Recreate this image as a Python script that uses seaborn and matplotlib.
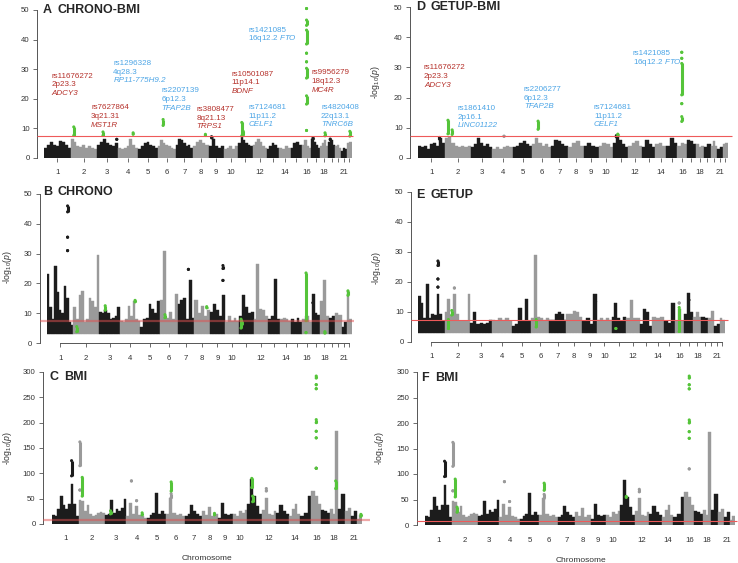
import numpy as np
import pandas as pd
import matplotlib.pyplot as plt
import seaborn as sns

# chromosomes (lengths in Mb) and the tick labels R kept
chrom_names = ['1', '2', '3', '4', '5', '6', '7', '8', '9', '10', '11',
               '12', '13', '14', '15', '16', '17', '18', '19', '20', '21', '22']
chrom_len = [249, 243, 198, 191, 181, 171, 159, 146, 141, 136, 135,
             134, 115, 107, 103, 90, 81, 78, 59, 63, 48, 51]
shown_ticks = ['1', '2', '3', '4', '5', '6', '7', '8', '9', '10', '12', '14', '16', '18', '21']
sig_line = 7.3

# skyline of -log10(p) per chromosome (read left to right)
sky_chrono_bmi = [
    [3.5, 4.5, 5.5, 4.5, 4, 5.8, 5.5, 4.5, 3.5], [6.5, 5.5, 4, 3.8, 4.5, 3.5, 4, 3.5, 3],
    [4.5, 5.5, 6.5, 5, 4.5, 4, 5], [3.5, 3, 3.5, 4, 6.5, 4.5, 3.5], [3, 4, 5, 5.5, 4.5, 4, 3.5],
    [4, 6, 5, 4.5, 4, 3.5, 3], [4.5, 6.5, 6, 5, 4, 4.5, 3.5], [4, 5.5, 6, 5, 4.5],
    [4, 6.5, 4, 3.5, 4], [3, 3.5, 4, 3, 4], [5, 7, 6, 5, 4.5, 4], [4.5, 5.5, 6.5, 5.5, 4, 3.5],
    [3, 4, 5, 4.5, 3.5], [3.5, 3, 4, 3.5], [3.5, 5, 5.5, 4.5], [4.5, 6, 4, 3.5],
    [6.5, 5.5, 4.5, 3.5], [4, 5, 6, 4], [5.5, 6, 4.5], [4, 4.5, 3.5], [2.5, 3.5, 3], [5, 5.5]]
sky_getup_bmi = [
    [4, 3.5, 4, 3, 4.5, 5, 4, 6.5, 5], [6.5, 7, 5, 4, 3.5, 4, 3.5, 4],
    [3.5, 4.5, 6.5, 5, 4, 4.5, 3.5], [3, 3.5, 3, 3.5, 4, 3.5], [3.5, 4, 5, 5.5, 4.5, 4],
    [4.5, 6.5, 5, 4, 4.5, 3.5], [4, 6, 5.5, 4.5, 4], [3.5, 5, 5.5, 4], [4, 5, 4, 3.5],
    [4, 5, 4.5, 3.5], [5, 7.5, 6, 4.5, 3.5], [4, 5, 5.5, 4], [3.5, 6, 4.5, 3.5],
    [4.5, 5, 4], [4, 6.5, 5], [4, 5, 4.5], [6, 5.5, 4.5], [4.5, 3.5, 4], [3.5, 4.5],
    [4, 5.5, 4], [3, 3.5], [4.5, 5]]
sky_chrono = [
    [23, 12, 8, 26, 17, 11, 10, 19, 15, 7, 6], [12, 8, 16, 17.5, 7, 8, 15, 14, 12, 29.5],
    [10.5, 10, 11, 10, 8, 8.5, 9, 12], [7.5, 7, 8, 12.5, 9, 14, 8, 7.5],
    [5.5, 8, 8.5, 13, 11.5, 10, 14], [14.5, 31, 8.5, 10.5, 8, 16.5],
    [13, 14.5, 15, 8, 21, 8.5], [14.5, 10, 12.5, 9, 11], [10.5, 13, 11, 9, 16],
    [7, 9, 7.5, 8.5, 7.5], [9, 16, 12, 10, 10.5], [8, 26.5, 11.5, 11, 9],
    [8, 9, 21.5, 8], [8, 8.5, 8, 7.5], [8, 7, 8.5, 7], [8, 9, 7], [16.5, 10, 9.5],
    [14, 21, 9], [8.5, 9], [10, 9.5], [5.5, 7], [17.5, 8]]
sky_getup = [
    [15.5, 13, 8, 19.5, 8, 9.5, 9, 16, 9.5, 7], [10, 14.5, 9, 16, 9.5, 7, 7, 7, 16],
    [6.5, 10, 6, 6.5, 6, 6.5, 7.5], [7.5, 7, 8, 7.5, 8, 7], [5.5, 6, 11.5, 7, 14.5, 7],
    [8, 29, 8.5, 8, 7.5, 8], [7.5, 7.5, 9.5, 10, 9.5, 7.5], [9.5, 9.5, 10.5, 10, 8.5],
    [7, 8, 6, 16], [7.5, 8, 7.5, 8, 7.5], [8.5, 13, 8, 7, 8.5], [8, 14, 8, 8],
    [6, 11, 10, 5.5], [8.5, 8, 8.5], [7, 6.5, 13], [7, 11, 7], [9.5, 16.5, 10],
    [8.5, 10, 8.5], [8.5, 8], [8, 10.5], [5.5, 6], [8, 7.5]]
sky_bmi = [
    [18, 15, 30, 55, 37, 30, 40, 78, 40, 15], [47, 45, 25, 37, 20, 15, 18, 22, 24, 22],
    [18, 20, 48, 22, 30, 25, 32, 50], [15, 42, 20, 35, 18, 15, 12],
    [12, 18, 22, 62, 20, 25, 20], [20, 52, 22, 18, 20, 15], [15, 20, 37, 25, 20, 15],
    [25, 18, 33, 15, 20], [12, 42, 20, 18, 20], [20, 15, 25, 22, 27],
    [40, 88, 55, 35, 20], [27, 52, 20, 18, 25], [22, 37, 25, 20], [15, 30, 40, 20],
    [15, 22, 55], [65, 55, 40], [27, 25, 22], [30, 20, 183], [30, 60], [25, 32],
    [15, 25], [10, 18]]

# isolated SNP columns: (chromosome, fraction along it, low, high)
dots_chrono_bmi = [(3, 0.95, 6.3, 6.3), (9, 0.2, 6.8, 7.2), (17, 0.2, 6.5, 6.8), (19, 0.3, 6.2, 6.4)]
dots_getup_bmi = [(1, 0.8, 6.3, 6.8), (4, 0.57, 7.2, 7.2), (11, 0.2, 7.0, 7.4)]
dots_chrono = [(1, 0.78, 44, 46), (1, 0.78, 35.5, 35.5), (1, 0.78, 31, 31),
               (7, 0.64, 24.7, 24.7), (9, 0.87, 25, 26), (9, 0.87, 21, 21), (17, 0.15, 13.5, 13.5)]
dots_getup = [(1, 0.75, 25.5, 27), (1, 0.75, 21, 21), (1, 0.75, 18.3, 18.3), (2, 0.38, 18, 18),
              (9, 0.9, 13.5, 13.5), (16, 0.45, 13, 13), (17, 0.5, 14, 14)]
dots_bmi = [(1, 0.73, 95, 125), (2, 0.04, 115, 162), (2, 0.04, 67, 67), (4, 0.25, 85, 85),
            (4, 0.5, 46, 46), (6, 0.26, 52, 60), (12, 0.3, 65, 70), (16, 0.5, 110, 110)]

# highlighted (green) SNPs
hits_chrono_bmi = [(2, 0.12, 7.6, 10.5), (3, 0.3, 7.6, 8.8), (4, 0.75, 8.0, 8.5), (6, 0.3, 11, 13),
                   (8, 0.8, 7.6, 8), (11, 0.25, 7.5, 12), (11, 0.35, 7.8, 9),
                   (16, 0.5, 50.5, 50.5), (16, 0.5, 44.8, 46.6), (16, 0.5, 38.5, 43.2),
                   (16, 0.5, 35.4, 35.4), (16, 0.5, 32.5, 32.5), (16, 0.5, 27, 30.3),
                   (16, 0.5, 18.2, 21), (16, 0.5, 9.3, 9.3), (18, 0.6, 7.5, 8.5), (22, 0.6, 7.4, 9)]
hits_getup_bmi = [(2, 0.12, 8, 12.5), (2, 0.28, 7.8, 9.3), (6, 0.31, 9.5, 12.2), (11, 0.3, 7.6, 7.9),
                  (16, 0.45, 35, 35), (16, 0.45, 33, 33), (16, 0.45, 20.9, 31.3),
                  (16, 0.45, 18, 18), (16, 0.45, 12.1, 13.7)]
hits_chrono = [(2, 0.13, 3.8, 5.5), (3, 0.29, 11, 12.5), (4, 0.74, 13.8, 14.3), (6, 0.3, 8.5, 9.5),
               (8, 0.79, 11.8, 12.2), (11, 0.12, 5, 8), (11, 0.22, 6.3, 6.8), (16, 0.4, 7.5, 23.5),
               (16, 0.4, 3.5, 3.5), (18, 0.55, 3.3, 3.8), (22, 0.25, 16, 17.5)]
hits_getup = [(2, 0.15, 4.5, 7.5), (2, 0.28, 9, 10.5), (6, 0.27, 5, 7.5), (11, 0.3, 4.5, 4.5),
              (16, 0.45, 3.5, 11.5)]
hits_bmi_c = [(2, 0.13, 55, 92), (3, 0.26, 20, 26), (4, 0.77, 18, 22), (6, 0.26, 65, 83),
              (8, 0.8, 18, 21), (11, 0.3, 72, 90), (11, 0.36, 44, 55), (16, 0.5, 288, 292),
              (16, 0.5, 275, 275), (16, 0.5, 267, 267), (16, 0.5, 200, 206), (16, 0.5, 183, 183),
              (16, 0.5, 170, 170), (16, 0.5, 110, 110), (18, 0.7, 70, 85), (22, 0.8, 15, 19)]
hits_bmi_f = [(2, 0.13, 55, 90), (2, 0.2, 25, 35), (6, 0.26, 68, 82), (11, 0.4, 54, 56),
              (16, 0.5, 288, 292), (16, 0.5, 275, 275), (16, 0.5, 267, 267), (16, 0.5, 200, 206),
              (16, 0.5, 183, 183), (16, 0.5, 170, 170)]

# locus labels (group 1 = dark red, 0 = blue)
snps_a = ['rs11676272', 'rs7627864', 'rs1296328', 'rs2207139', 'rs3808477',
          'rs10501087', 'rs7124681', 'rs1421085', 'rs9956279', 'rs4820408']
bands_a = ['2p23.3', '3q21.31', '4q28.3', '6p12.3', '8q21.13',
           '11p14.1', '11p11.2', '16q12.2', '18q12.3', '22q13.1']
genes_a = ['ADCY3', 'MST1R', 'RP11-775H9.2', 'TFAP2B', 'TRPS1',
           'BDNF', 'CELF1', 'FTO', 'MC4R', 'TNRC6B']
group_a = [1, 1, 0, 0, 1, 1, 0, 0, 1, 0]
snps_d = ['rs11676272', 'rs1861410', 'rs2206277', 'rs7124681', 'rs1421085']
bands_d = ['2p23.3', '2p16.1', '6p12.3', '11p11.2', '16q12.2']
genes_d = ['ADCY3', 'LINC01122', 'TFAP2B', 'CELF1', 'FTO']
group_d = [1, 0, 0, 0, 0]

# ---- layout / style ----
sns.set_style('white')
plt.rcParams['font.family'] = ['Liberation Sans', 'DejaVu Sans']
plt.rcParams['mathtext.fontset'] = 'custom'
plt.rcParams['mathtext.rm'] = 'Liberation Sans'
plt.rcParams['mathtext.it'] = 'Liberation Sans:italic'

BLACK, GREY, GREEN = '#1c1c1c', '#9a9a9a', '#55c43a'
REDLINE, DARKRED, BLUE, AXIS = '#ee5a5a', '#b5302a', '#4ca5e6', '#555555'

W, H = 738, 563
fig = plt.figure(figsize=(W / 100, H / 100), dpi=100)

starts = np.concatenate([[0], np.cumsum(chrom_len)[:-1]])
total = float(sum(chrom_len))
centers = starts + np.array(chrom_len) / 2
chrom_color = [BLACK if i % 2 == 0 else GREY for i in range(22)]


def sky_frame(sky, base):
    rows = []
    for c, heights in enumerate(sky):
        w = chrom_len[c] / len(heights)
        for i, h in enumerate(heights):
            rows.append((starts[c] + (i + 0.5) * w, w, h - base, base, chrom_color[c]))
    return pd.DataFrame(rows, columns=['pos', 'width', 'height', 'bottom', 'color'])


def mark_frame(marks, colr=None):
    rows = [(starts[c - 1] + f * chrom_len[c - 1], lo, hi, colr or chrom_color[c - 1])
            for c, f, lo, hi in marks]
    return pd.DataFrame(rows, columns=['pos', 'lo', 'hi', 'color'])


def draw_marks(ax, m, z):
    ax.vlines(m['pos'], m['lo'], m['hi'], colors=m['color'], lw=2.2, zorder=z, clip_on=False)
    pts = pd.concat([m[['pos', 'lo', 'color']].rename(columns={'lo': 'p'}),
                     m[['pos', 'hi', 'color']].rename(columns={'hi': 'p'})])
    sns.scatterplot(data=pts, x='pos', y='p', hue='color',
                    palette={c: c for c in pts['color'].unique()},
                    s=5, linewidth=0, legend=False, ax=ax, zorder=z, clip_on=False)


panels = [
    # letter, name, sky, base, dots, hits, yaxis_px, x0, x1, ytop, y0, ymax, step, xline, ticklen, thick_red, red_end, ylab, title
    ('A', 'CHRONO-BMI', sky_chrono_bmi, 0, dots_chrono_bmi, hits_chrono_bmi,
     37, 44, 352, 10, 158, 50, 10, False, 4, False, 353, None, (42.7, 10)),
    ('B', 'CHRONO', sky_chrono, 3, dots_chrono, hits_chrono,
     39.5, 47, 352, 194, 343, 50, 10, True, 4, True, 354, (7, 267), (43.3, 192)),
    ('C', 'BMI', sky_bmi, 0, dots_bmi, hits_bmi_c,
     43, 52, 362, 372, 524, 300, 50, False, 0, True, 370, (8, 448), (49.3, 377.3)),
    ('D', 'GETUP-BMI', sky_getup_bmi, 0, dots_getup_bmi, hits_getup_bmi,
     410, 418, 728, 7, 158, 50, 10, False, 4, False, 731.7, (375, 82), (416, 6.7)),
    ('E', 'GETUP', sky_getup, 3, dots_getup, hits_getup,
     411, 418, 725, 192, 342, 50, 10, True, 4, False, 728, (377, 268), (415.7, 195)),
    ('F', 'BMI', sky_bmi, 0, dots_bmi, hits_bmi_f,
     416.5, 425, 735, 372, 525, 300, 50, False, 0, False, 737, (380, 448), (420.7, 378.3)),
]

for (letter, name, sky, base, dots, hits, yax, x0, x1, ytop, y0, ymax, step, xline,
     ticklen, thick_red, red_end, ylab, title) in panels:
    ax = fig.add_axes([x0 / W, 1 - y0 / H, (x1 - x0) / W, (y0 - ytop) / H])
    bars = sky_frame(sky, base)
    ax.bar(bars['pos'], bars['height'], width=bars['width'], bottom=bars['bottom'],
           color=bars['color'], edgecolor=bars['color'], linewidth=0.3, zorder=2)
    draw_marks(ax, mark_frame(dots), 3)
    draw_marks(ax, mark_frame(hits, GREEN), 4)

    scale = total / (x1 - x0)
    xs = [-(x0 - yax) * scale, total + (red_end - x1) * scale]
    if thick_red:
        ax.plot(xs, [sig_line] * 2, color='#e05050', lw=1.6, alpha=0.5, zorder=5,
                clip_on=False, solid_capstyle='butt')
    else:
        ax.plot(xs, [sig_line] * 2, color=REDLINE, lw=0.8, zorder=5,
                clip_on=False, solid_capstyle='butt')

    ax.set_xlim(0, total)
    ax.set_ylim(0, ymax)
    ax.set_xlabel('')
    ax.set_ylabel('')
    for s in ['top', 'right']:
        ax.spines[s].set_visible(False)
    ax.spines['left'].set_position(('outward', (x0 - yax) * 0.72))
    ax.spines['left'].set_bounds(0, ymax)
    ax.spines['bottom'].set_bounds(centers[0], centers[-1])
    ax.spines['bottom'].set_visible(xline)
    for s in ['left', 'bottom']:
        ax.spines[s].set_color(AXIS)
        ax.spines[s].set_linewidth(0.7)
        ax.spines[s].set_zorder(1)
    ax.set_yticks(np.arange(0, ymax + 1, step))
    ax.set_xticks(centers)
    ax.set_xticklabels([n if n in shown_ticks else '' for n in chrom_names])
    ax.tick_params(axis='y', left=True, length=4 * 0.72, width=0.6, color=AXIS,
                   labelsize=5.6, labelcolor='#333333', pad=2.5)
    ax.tick_params(axis='x', bottom=True, length=ticklen * 0.72, width=0.6, color=AXIS,
                   labelsize=5.6, labelcolor='#333333', pad=(11.5 - ticklen) * 0.72)
    ax.patch.set_alpha(0)

    tx, ty = title
    fig.text(tx / W, 1 - ty / H, letter, fontsize=9, fontweight='bold', va='center', ha='left')
    fig.text((tx + 14.5) / W, 1 - ty / H, name, fontsize=9, fontweight='bold', va='center', ha='left')
    if ylab:
        fig.text(ylab[0] / W, 1 - ylab[1] / H, r'-log$_{10}$($\mathit{p}$)', rotation=90,
                 fontsize=6.3, color='#333333', ha='center', va='center')

# chromosome axis titles
fig.text(207 / W, 1 - 558 / H, 'Chromosome', fontsize=6, color='#333333', ha='center', va='center')
fig.text(581 / W, 1 - 560 / H, 'Chromosome', fontsize=6, color='#333333', ha='center', va='center')

# locus labels (pixel anchors of first line)
pos_a = [(51.7, 76), (91, 107.7), (113.3, 63.3), (161.7, 90.7), (196.7, 109.3),
         (231.7, 74), (248.3, 107.3), (248.3, 30), (311.7, 72.7), (321, 107.3)]
pos_d = [(424, 67.7), (457.3, 108.3), (524, 89.3), (594, 107.3), (632.7, 53.3)]
line_gap = 8.8
for snps, bands, genes, groups, poss in [(snps_a, bands_a, genes_a, group_a, pos_a),
                                         (snps_d, bands_d, genes_d, group_d, pos_d)]:
    for snp, band, gene, g, (px, py) in zip(snps, bands, genes, groups, poss):
        col = DARKRED if g == 1 else BLUE
        kw = dict(fontsize=5.8, color=col, ha='left', va='center')
        fig.text(px / W, 1 - py / H, snp, **kw)
        if gene == 'FTO':
            fig.text(px / W, 1 - (py + line_gap) / H, band + r' $\mathit{FTO}$', **kw)
        else:
            fig.text(px / W, 1 - (py + line_gap) / H, band, **kw)
            fig.text(px / W, 1 - (py + 2 * line_gap) / H, gene, fontstyle='italic', **kw)

fig.savefig('out.png', dpi=100)
